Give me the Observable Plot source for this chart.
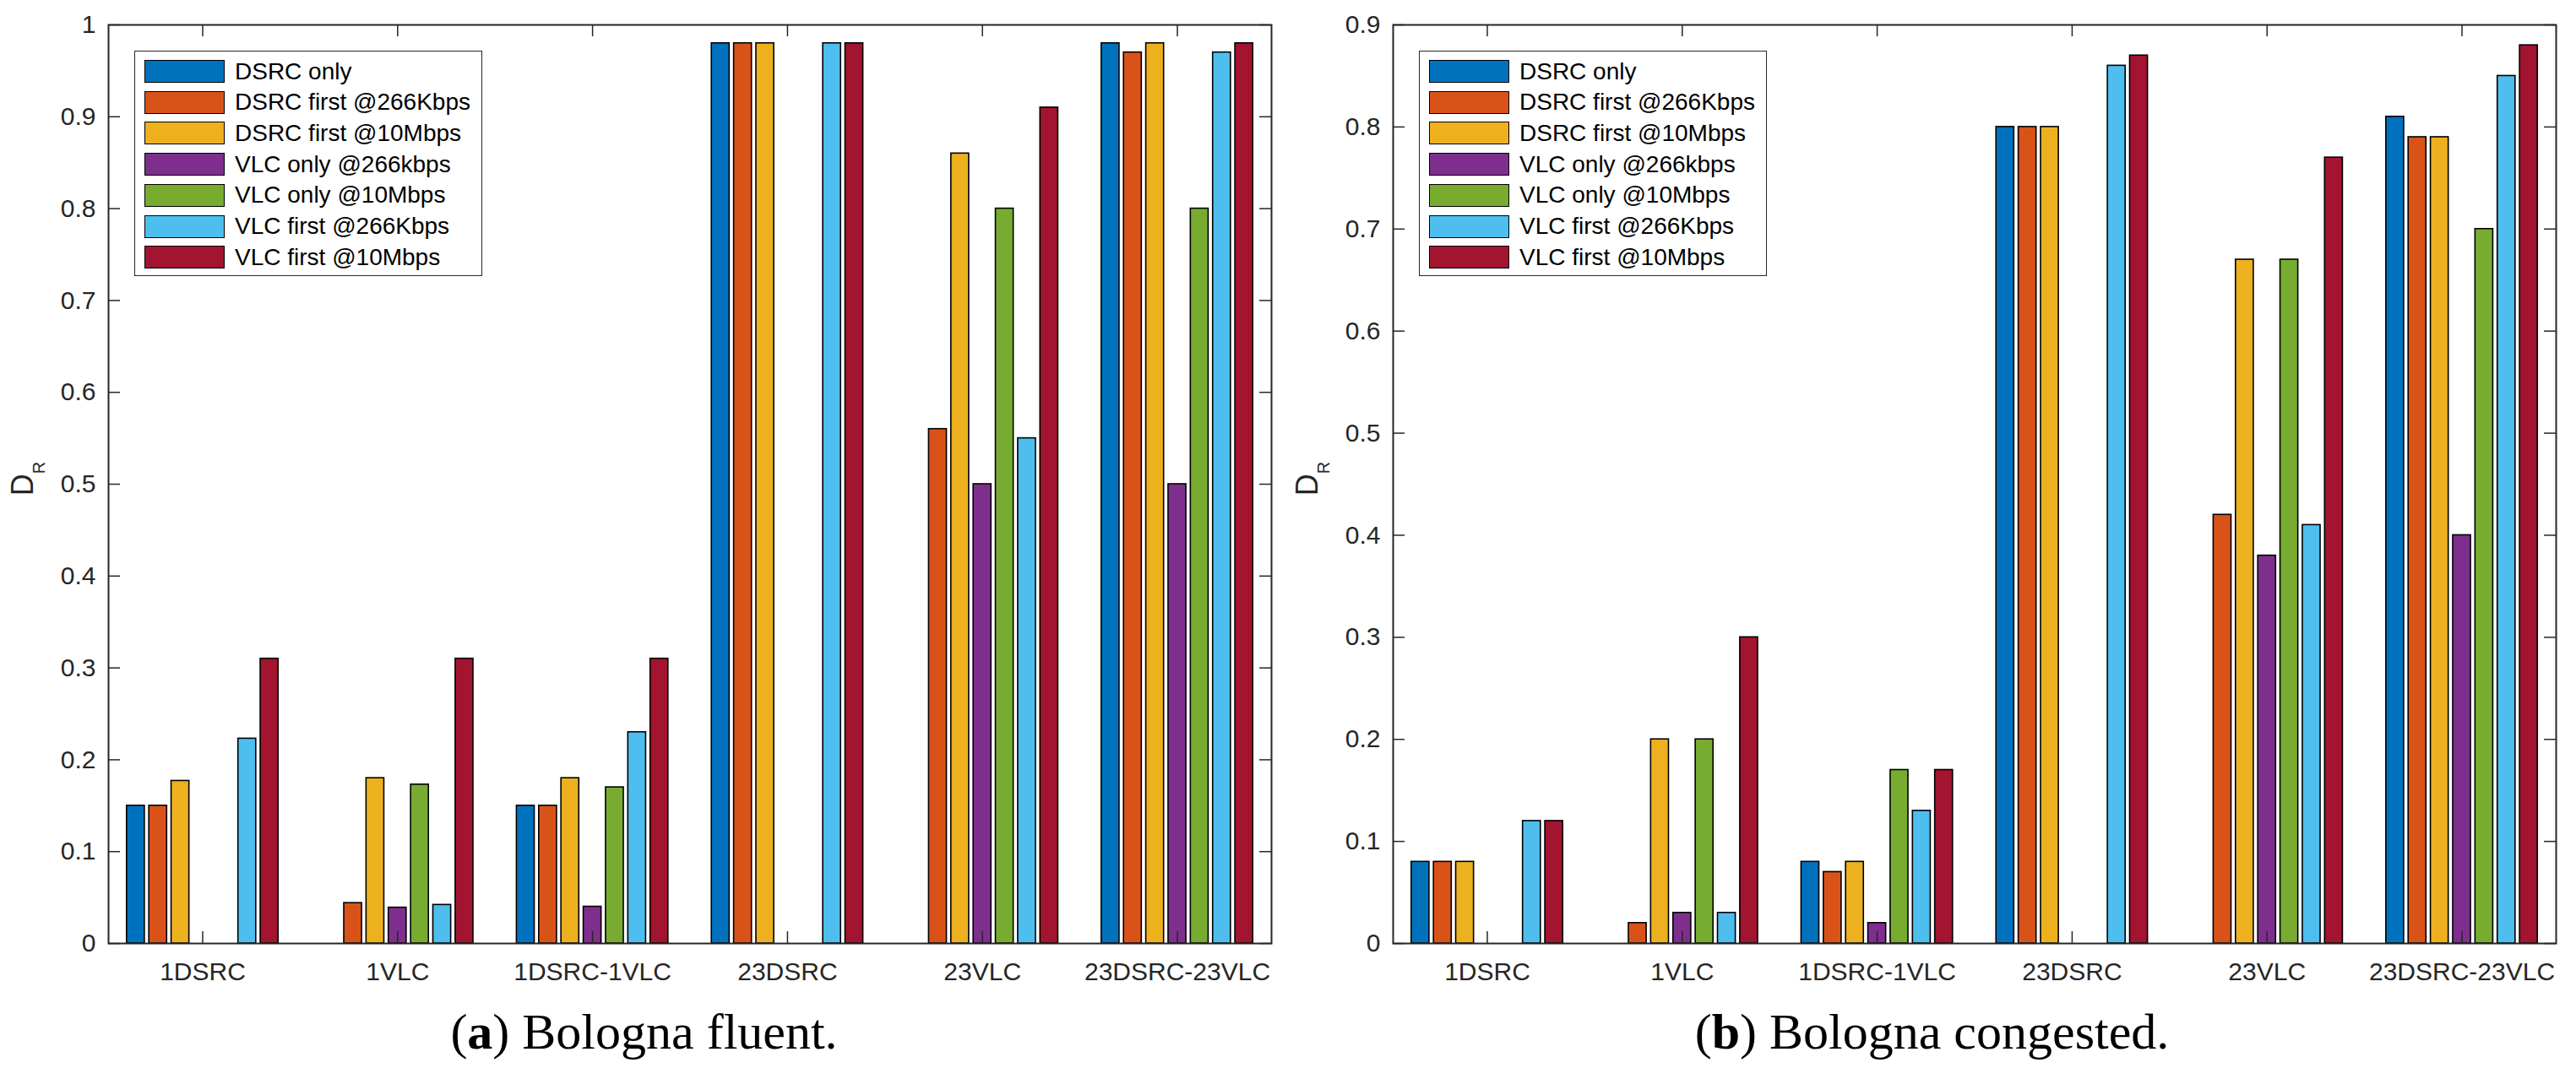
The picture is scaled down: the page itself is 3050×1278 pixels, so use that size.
<!DOCTYPE html>
<html>
<head>
<meta charset="utf-8">
<script src="https://cdn.jsdelivr.net/npm/d3@7"></script>
<script src="https://cdn.jsdelivr.net/npm/@observablehq/plot@0.6"></script>
<style>
  html, body { margin: 0; padding: 0; background: #fff; }
  #page { position: relative; width: 3050px; height: 1278px; overflow: hidden; background: #fff; }
  .panel { position: absolute; top: 0; }
  .legend { position: absolute; box-sizing: border-box; border: 1.5px solid #262626; background: #fff;
            font-family: "Liberation Sans", Arial, sans-serif; font-size: 28px; color: #000; }
  .legend .row { position: absolute; left: 11px; height: 27px; display: flex; align-items: center; white-space: nowrap; }
  .legend .sw { width: 95px; height: 27px; box-sizing: border-box; border: 1.5px solid #000; margin-right: 12px; }
  .caption { position: absolute; top: 1192px; width: 1525px; text-align: center;
             font-family: "Liberation Serif", "Times New Roman", serif; font-size: 60px; line-height: 1; color: #000; }
  .caption b { font-weight: bold; }
</style>
</head>
<body>
<div id="page"></div>
<script>
// ---------- data ----------
const categories = ["1DSRC", "1VLC", "1DSRC-1VLC", "23DSRC", "23VLC", "23DSRC-23VLC"];
const seriesNames = ["DSRC only", "DSRC first @266Kbps", "DSRC first @10Mbps", "VLC only @266kbps",
                     "VLC only @10Mbps", "VLC first @266Kbps", "VLC first @10Mbps"];
const seriesColors = ["#0072BD", "#D95319", "#EDB120", "#7E2F8E", "#77AC30", "#4DBEEE", "#A2142F"];

// (a) Bologna fluent: one row per series, one value per category
const fluentValues = [
  [0.15, 0,     0.15, 0.98, 0,    0.98],
  [0.15, 0.044, 0.15, 0.98, 0.56, 0.97],
  [0.177, 0.18, 0.18, 0.98, 0.86, 0.98],
  [0,    0.039, 0.04, 0,    0.50, 0.50],
  [0,    0.173, 0.17, 0,    0.80, 0.80],
  [0.223, 0.042, 0.23, 0.98, 0.55, 0.97],
  [0.31, 0.31,  0.31, 0.98, 0.91, 0.98]
];
// (b) Bologna congested
const congestedValues = [
  [0.08, 0,    0.08, 0.80, 0,    0.81],
  [0.08, 0.02, 0.07, 0.80, 0.42, 0.79],
  [0.08, 0.20, 0.08, 0.80, 0.67, 0.79],
  [0,    0.03, 0.02, 0,    0.38, 0.40],
  [0,    0.20, 0.17, 0,    0.67, 0.70],
  [0.12, 0.03, 0.13, 0.86, 0.41, 0.85],
  [0.12, 0.30, 0.17, 0.87, 0.77, 0.88]
];
const fluentTicks = [0, 0.1, 0.2, 0.3, 0.4, 0.5, 0.6, 0.7, 0.8, 0.9, 1];
const congestedTicks = [0, 0.1, 0.2, 0.3, 0.4, 0.5, 0.6, 0.7, 0.8, 0.9];
const captions = [["a", " Bologna fluent."], ["b", " Bologna congested."]];
const yLabelMain = "D";
const yLabelSub = "R";

// ---------- layout ----------
const W = 1525, H = 1180, ML = 128, MR = 20, MT = 29, MB = 63;
const plotW = W - ML - MR, plotH = H - MT - MB;
const axisColor = "#262626";
const groupWidth = 0.8;                      // MATLAB grouped-bar width
const slot = groupWidth / seriesNames.length;
const barW = slot * 0.8;
const catIdx = categories.map((_, i) => i + 1);

function makePanel(values, yMax, yTicks) {
  const data = [];
  values.forEach((row, si) => row.forEach((v, ci) => data.push({si, ci, v, series: seriesNames[si]})));
  const center = d => d.ci + 1 + (d.si - (seriesNames.length - 1) / 2) * slot;
  const chart = Plot.plot({
    width: W, height: H,
    marginLeft: ML, marginRight: MR, marginTop: MT, marginBottom: MB,
    style: {fontFamily: "'Liberation Sans', Arial, sans-serif", background: "transparent"},
    x: {domain: [0.517, 6.483], axis: null},
    y: {domain: [0, yMax], axis: null},
    color: {domain: seriesNames, range: seriesColors},
    marks: [
      Plot.rect(data, {
        x1: d => center(d) - barW / 2, x2: d => center(d) + barW / 2,
        y1: () => 0, y2: "v",
        fill: "series", stroke: "#000", strokeWidth: 1.6
      }),
      // inward ticks on all four sides
      Plot.tickY(yTicks, {y: d => d, insetRight: plotW - 14, stroke: axisColor, strokeWidth: 1.5}),
      Plot.tickY(yTicks, {y: d => d, insetLeft: plotW - 14, stroke: axisColor, strokeWidth: 1.5}),
      Plot.tickX(catIdx, {x: d => d, insetTop: plotH - 14, stroke: axisColor, strokeWidth: 1.5}),
      Plot.tickX(catIdx, {x: d => d, insetBottom: plotH - 14, stroke: axisColor, strokeWidth: 1.5}),
      Plot.axisY({ticks: yTicks, tickSize: 0, tickPadding: 15, fontSize: 30, color: axisColor,
                  tickFormat: d => String(Math.round(d * 10) / 10), label: null}),
      Plot.axisX({ticks: catIdx, tickSize: 0, tickPadding: 22, fontSize: 30, color: axisColor,
                  tickFormat: i => categories[i - 1], label: null}),
      Plot.frame({stroke: axisColor, strokeWidth: 2})
    ]
  });
  // y-axis label D_R
  const svg = d3.select(chart.tagName.toLowerCase() === "svg" ? chart : chart.querySelector("svg"));
  const t = svg.append("text")
    .attr("transform", `translate(39,${MT + plotH / 2 - 6}) rotate(-90)`)
    .attr("text-anchor", "middle")
    .attr("fill", axisColor)
    .attr("font-family", "'Liberation Sans', Arial, sans-serif")
    .attr("font-size", 36);
  t.append("tspan").text(yLabelMain);
  t.append("tspan").attr("dy", 14).attr("font-size", 20).text(yLabelSub);
  return chart;
}

const page = document.getElementById("page");
const panels = [
  {values: fluentValues, yMax: 1, ticks: fluentTicks, left: 0},
  {values: congestedValues, yMax: 0.9, ticks: congestedTicks, left: 1521}
];
panels.forEach((p, k) => {
  const wrap = document.createElement("div");
  wrap.className = "panel";
  wrap.style.left = p.left + "px";
  wrap.appendChild(makePanel(p.values, p.yMax, p.ticks));
  page.appendChild(wrap);

  // legend (inside the axes, top-left)
  const lg = document.createElement("div");
  lg.className = "legend";
  lg.style.left = (p.left + ML + 31) + "px";
  lg.style.top = "60px";
  lg.style.width = "412px";
  lg.style.height = "267px";
  seriesNames.forEach((name, i) => {
    const row = document.createElement("div");
    row.className = "row";
    row.style.top = (10 + i * 36.7) + "px";
    const sw = document.createElement("div");
    sw.className = "sw";
    sw.style.background = seriesColors[i];
    const tx = document.createElement("span");
    tx.textContent = name;
    row.appendChild(sw); row.appendChild(tx);
    lg.appendChild(row);
  });
  page.appendChild(lg);

  // caption
  const cap = document.createElement("div");
  cap.className = "caption";
  cap.style.left = (k * 1525) + "px";
  cap.innerHTML = "(<b>" + captions[k][0] + "</b>)" + captions[k][1];
  page.appendChild(cap);
});
</script>
</body>
</html>
